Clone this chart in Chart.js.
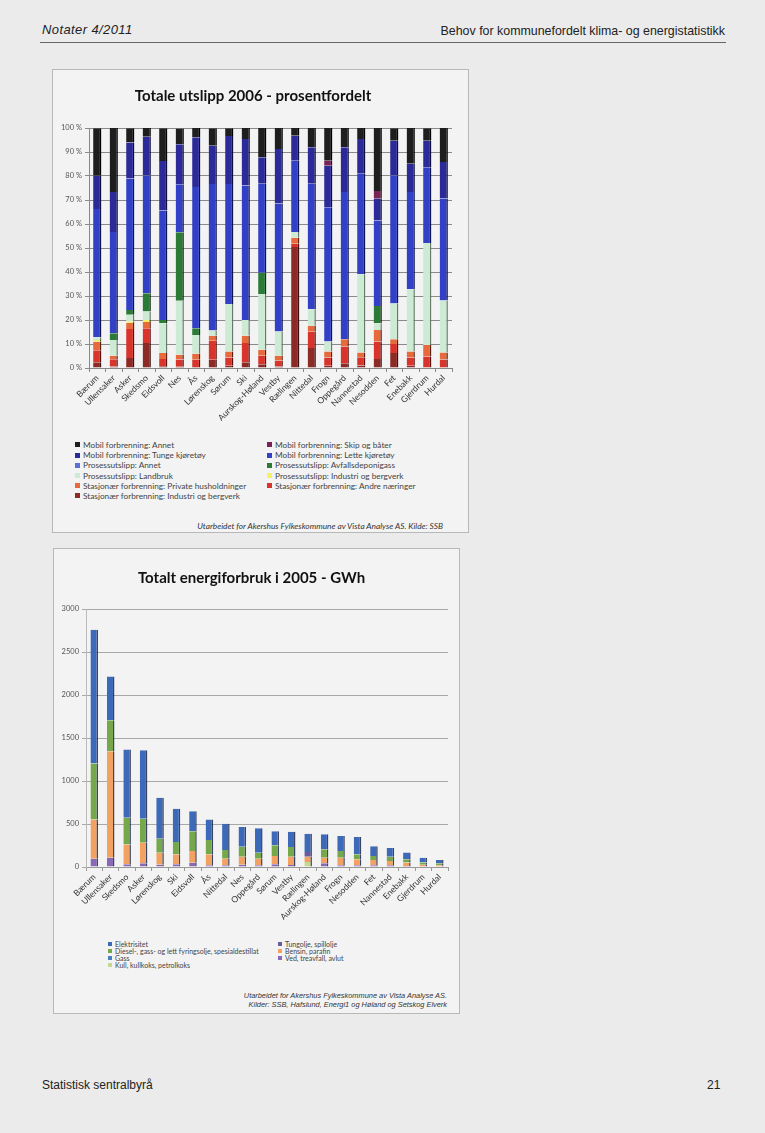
<!DOCTYPE html>
<html>
<head>
<meta charset="utf-8">
<script src="https://cdn.jsdelivr.net/npm/chart.js@4.4.0/dist/chart.umd.min.js"></script>
<style>
  body { margin:0; width:765px; height:1133px; background:#ebebeb; position:relative; overflow:hidden;
         font-family:"Liberation Sans", Arial, sans-serif; color:#222; }
  .hdr-left { position:absolute; left:42px; top:22px; font-size:13px; font-style:italic; letter-spacing:0.4px; }
  .hdr-right { position:absolute; right:40px; top:24px; font-size:12.4px; }
  .rule { position:absolute; left:40px; top:42px; width:686px; height:1px; background:#666; }
  .box { position:absolute; background:#f3f3f3; border:1px solid #b8b8b8; }
  #box1 { left:52px; top:69px; width:415px; height:462px; }
  #box2 { left:53px; top:548px; width:405px; height:464px; }
  .box canvas { position:absolute; left:1px; top:1px; }
  .legend { position:absolute; display:grid; font-family:Lato, sans-serif; color:#444; white-space:nowrap; }
  .legend .sw { display:inline-block; vertical-align:middle; margin-right:3px; position:relative; top:-1px; }
  #leg1 { left:22px; top:370px; grid-template-columns:192px 190px; font-size:8.25px; line-height:10.2px; }
  #leg1 .sw { width:5px; height:5px; }
  #leg2 { left:54px; top:392px; grid-template-columns:170px 160px; font-size:7px; line-height:7px; }
  #leg2 .sw { width:4px; height:4px; }
  .src { position:absolute; font-style:italic; color:#333; text-align:right; }
  #src1 { right:25px; top:451px; font-family:Lato, sans-serif; font-size:8.3px; line-height:10px; }
  #src2 { right:12px; top:442px; font-size:7.4px; line-height:9px; }
  .ftr-left { position:absolute; left:42px; top:1078px; font-size:12px; }
  .ftr-right { position:absolute; left:707px; top:1078px; font-size:12px; }
</style>
</head>
<body>
<div class="hdr-left">Notater 4/2011</div>
<div class="hdr-right">Behov for kommunefordelt klima- og energistatistikk</div>
<div class="rule"></div>

<div class="box" id="box1">
  <canvas id="chart1" width="412" height="359"></canvas>
  <div class="legend" id="leg1"></div>
  <div class="src" id="src1">Utarbeidet for Akershus Fylkeskommune av Vista Analyse AS. Kilde: SSB</div>
</div>

<div class="box" id="box2">
  <canvas id="chart2" width="403" height="382"></canvas>
  <div class="legend" id="leg2"></div>
  <div class="src" id="src2">Utarbeidet for Akershus Fylkeskommune av Vista Analyse AS.<br>Kilder: SSB, Hafslund, Energi1 og Høland og Setskog Elverk</div>
</div>

<div class="ftr-left">Statistisk sentralbyrå</div>
<div class="ftr-right">21</div>

<script>
// ---- Totale utslipp 2006 - prosentfordelt (per cent of total) ----
const kommuner1 = ['Bærum','Ullensaker','Asker','Skedsmo','Eidsvoll','Nes','Ås','Lørenskog','Sørum','Ski',
  'Aurskog-Høland','Vestby','Rælingen','Nittedal','Frogn','Oppegård','Nannestad','Nesodden','Fet','Enebakk','Gjerdrum','Hurdal'];

const stasjIndustri = [2.4, 0.6, 4.2, 10.4, 0.7, 0.5, 0.4, 3.4, 0.9, 2.4, 1.6, 0.6, 50.4, 8.3, 0.9, 2.0, 1.0, 3.7, 6.2, 0.9, 0, 0];
const stasjAndre    = [5.0, 3.0, 12.0, 6.2, 3.0, 3.0, 3.0, 8.0, 3.5, 8.0, 3.5, 2.5, 1.4, 6.8, 3.5, 7.0, 3.5, 7.3, 3.8, 3.5, 4.8, 3.5];
const stasjPrivate  = [3.5, 1.5, 2.5, 2.6, 2.5, 2.0, 2.5, 2.0, 2.5, 3.0, 2.5, 2.0, 2.5, 2.5, 2.5, 3.0, 2.0, 4.8, 2.0, 2.5, 4.8, 3.0];
const prosIndustri  = [0.8, 0, 0.7, 0.8, 0, 0, 0, 0, 0, 0, 0, 0, 0, 0, 0, 0, 0, 0, 0, 0, 0, 0];
const prosLandbruk  = [1.1, 6.6, 2.8, 3.5, 12.4, 22.5, 7.9, 2.2, 19.8, 6.6, 23.2, 10.1, 2.4, 6.9, 4.1, 0, 32.6, 2.8, 14.9, 25.9, 42.5, 21.6];
const prosAvfall    = [0, 2.8, 2.0, 7.6, 1.4, 28.6, 2.8, 0, 0, 0, 8.9, 0, 0, 0, 0, 0, 0, 7.2, 0, 0, 0, 0];
const prosAnnet     = [0, 0, 0, 0, 0, 0, 0, 0, 0, 0, 0, 0, 0, 0, 0, 0, 0, 0, 0, 0, 0, 0];
const mobLette      = [53.5, 42.2, 54.8, 49.1, 45.6, 20.0, 58.8, 61.1, 50.0, 56.0, 37.1, 53.3, 29.7, 52.3, 56.0, 61.3, 41.8, 35.7, 53.3, 40.5, 31.5, 42.5];
const mobTunge      = [13.8, 16.6, 15.0, 16.2, 20.7, 16.6, 20.7, 15.9, 20.0, 19.4, 11.0, 22.8, 10.4, 15.2, 17.3, 18.7, 14.5, 9.0, 14.5, 11.8, 11.1, 15.2];
const mobSkip       = [0, 0, 0, 0, 0, 0, 0, 0, 0, 0, 0, 0, 0, 0, 2.1, 0, 0, 3.2, 0, 0, 0, 0];
const mobAnnet      = [19.8, 26.7, 5.9, 3.6, 13.6, 6.6, 3.9, 7.3, 3.2, 4.6, 12.2, 8.7, 3.2, 8.0, 13.6, 8.0, 4.6, 26.3, 5.2, 14.9, 5.2, 14.2];
const pctTicks = [0, 10, 20, 30, 40, 50, 60, 70, 80, 90, 100];

// ---- Totalt energiforbruk i 2005 - GWh ----
const kommuner2 = ['Bærum','Ullensaker','Skedsmo','Asker','Lørenskog','Ski','Eidsvoll','Ås','Nittedal','Nes','Oppegård',
  'Sørum','Vestby','Rælingen','Aurskog-Høland','Frogn','Nesodden','Fet','Nannestad','Enebakk','Gjerdrum','Hurdal'];

const kull         = [0, 0, 0, 0, 0, 0, 0, 0, 0, 0, 0, 0, 0, 58, 0, 0, 0, 0, 0, 0, 0, 0];
const ved          = [97, 108, 31, 43, 27, 31, 50, 19, 19, 27, 19, 31, 23, 0, 43, 19, 19, 19, 19, 12, 0, 0];
const gass         = [0, 0, 0, 0, 0, 0, 0, 0, 0, 0, 0, 0, 0, 0, 0, 0, 0, 0, 0, 0, 0, 0];
const bensin       = [456, 1238, 232, 240, 139, 116, 135, 128, 77, 93, 77, 97, 97, 62, 66, 89, 70, 62, 50, 39, 25, 20];
const diesel       = [650, 360, 309, 278, 162, 143, 232, 166, 101, 116, 70, 124, 112, 0, 97, 78, 58, 47, 50, 39, 26, 23];
const tungolje     = [0, 0, 0, 0, 0, 0, 0, 0, 0, 0, 0, 0, 0, 54, 0, 0, 0, 0, 0, 0, 0, 0];
const elektrisitet = [1555, 510, 793, 797, 476, 387, 232, 240, 306, 228, 286, 163, 178, 213, 174, 174, 202, 112, 101, 78, 58, 39];
const gwhTicks = [0, 500, 1000, 1500, 2000, 2500, 3000];

const tickFont = { family: 'Lato', size: 7.5 };
const xFont = { family: 'Lato', size: 8.5 };

function series(label, data, color, edge) {
  return { label, data, backgroundColor: color, borderColor: edge,
           borderWidth: { top: 0, right: 1.5, bottom: 0, left: 0 }, borderSkipped: false,
           barPercentage: 0.5, categoryPercentage: 1 };
}

function fillLegend(el, chart) {
  // Excel lists the top of the stack first, two items per row
  chart.data.datasets.slice().reverse().forEach(ds => {
    const d = document.createElement('div');
    d.innerHTML = '<span class="sw" style="background:' + ds.backgroundColor + '"></span>' + ds.label;
    el.appendChild(d);
  });
}

const chart1 = new Chart(document.getElementById('chart1'), {
  type: 'bar',
  data: {
    labels: kommuner1,
    datasets: [
      series('Stasjonær forbrenning: Industri og bergverk', stasjIndustri, '#8c2a26', '#3a1010'),
      series('Stasjonær forbrenning: Andre næringer', stasjAndre, '#d8342c', '#5a1010'),
      series('Stasjonær forbrenning: Private husholdninger', stasjPrivate, '#e66a3c', '#5a2010'),
      series('Prosessutslipp: Industri og bergverk', prosIndustri, '#f2f26a', '#555520'),
      series('Prosessutslipp: Landbruk', prosLandbruk, '#cdebd4', '#6a7a6a'),
      series('Prosessutslipp: Avfallsdeponigass', prosAvfall, '#2b7a36', '#103010'),
      series('Prosessutslipp: Annet', prosAnnet, '#5b6fd6', '#151a50'),
      series('Mobil forbrenning: Lette kjøretøy', mobLette, '#3140c6', '#0f1450'),
      series('Mobil forbrenning: Tunge kjøretøy', mobTunge, '#2b2a98', '#0d0d40'),
      series('Mobil forbrenning: Skip og båter', mobSkip, '#782256', '#2a0a20'),
      series('Mobil forbrenning: Annet', mobAnnet, '#1e1e1e', '#000000')
    ]
  },
  options: {
    responsive: false,
    animation: false,
    layout: { padding: { top: 0, right: 14, bottom: 0, left: 0 } },
    plugins: {
      legend: { display: false },
      tooltip: { enabled: false },
      title: { display: true, text: 'Totale utslipp 2006 - prosentfordelt', color: '#111',
               font: { family: 'Lato', size: 15, weight: 'bold' }, padding: { top: 16, bottom: 23 } }
    },
    scales: {
      x: {
        stacked: true,
        afterFit: s => { s.height = 62; },
        grid: { drawOnChartArea: false, tickLength: 4, color: '#888' },
        border: { color: '#888' },
        ticks: { font: xFont, color: '#333', minRotation: 45, maxRotation: 45, autoSkip: false, padding: 1 }
      },
      y: {
        stacked: true, min: 0, max: 100,
        afterFit: s => { s.width = 35; },
        afterBuildTicks: s => { s.ticks = pctTicks.map(v => ({ value: v })); },
        grid: { color: '#8a8a8a', tickLength: 4 },
        border: { color: '#888' },
        ticks: { font: tickFont, color: '#555', padding: 3, callback: v => v + ' %' }
      }
    }
  }
});
fillLegend(document.getElementById('leg1'), chart1);

function series2(label, data, color) {
  return { label, data, backgroundColor: color, borderColor: 'rgba(25,35,70,0.85)',
           borderWidth: { top: 0, right: 1.5, bottom: 0, left: 0 }, borderSkipped: false,
           barPercentage: 0.46, categoryPercentage: 1 };
}

const chart2 = new Chart(document.getElementById('chart2'), {
  type: 'bar',
  data: {
    labels: kommuner2,
    datasets: [
      series2('Kull, kullkoks, petrolkoks', kull, '#c4d98e'),
      series2('Ved, treavfall, avlut', ved, '#8a68b8'),
      series2('Gass', gass, '#4a7fc4'),
      series2('Bensin, parafin', bensin, '#f2a160'),
      series2('Diesel-, gass- og lett fyringsolje, spesialdestillat', diesel, '#74a84a'),
      series2('Tungolje, spillolje', tungolje, '#6a5a9e'),
      series2('Elektrisitet', elektrisitet, '#3c69b8')
    ]
  },
  options: {
    responsive: false,
    animation: false,
    layout: { padding: { top: 0, right: 10, bottom: 0, left: 0 } },
    plugins: {
      legend: { display: false },
      tooltip: { enabled: false },
      title: { display: true, text: 'Totalt energiforbruk i 2005 - GWh', color: '#111',
               font: { family: 'Lato', size: 15, weight: 'bold' }, padding: { top: 19, bottom: 22 } }
    },
    scales: {
      x: {
        stacked: true,
        afterFit: s => { s.height = 65; },
        grid: { drawOnChartArea: false, tickLength: 4, color: '#999' },
        border: { color: '#999' },
        ticks: { font: xFont, color: '#333', minRotation: 45, maxRotation: 45, autoSkip: false, padding: 1 }
      },
      y: {
        stacked: true, min: 0, max: 3000,
        afterFit: s => { s.width = 31; },
        afterBuildTicks: s => { s.ticks = gwhTicks.map(v => ({ value: v })); },
        grid: { color: '#a8a8a8', tickLength: 4 },
        border: { color: '#bbb' },
        ticks: { font: tickFont, color: '#555', padding: 3, callback: v => String(v) }
      }
    }
  }
});
fillLegend(document.getElementById('leg2'), chart2);
</script>
</body>
</html>
